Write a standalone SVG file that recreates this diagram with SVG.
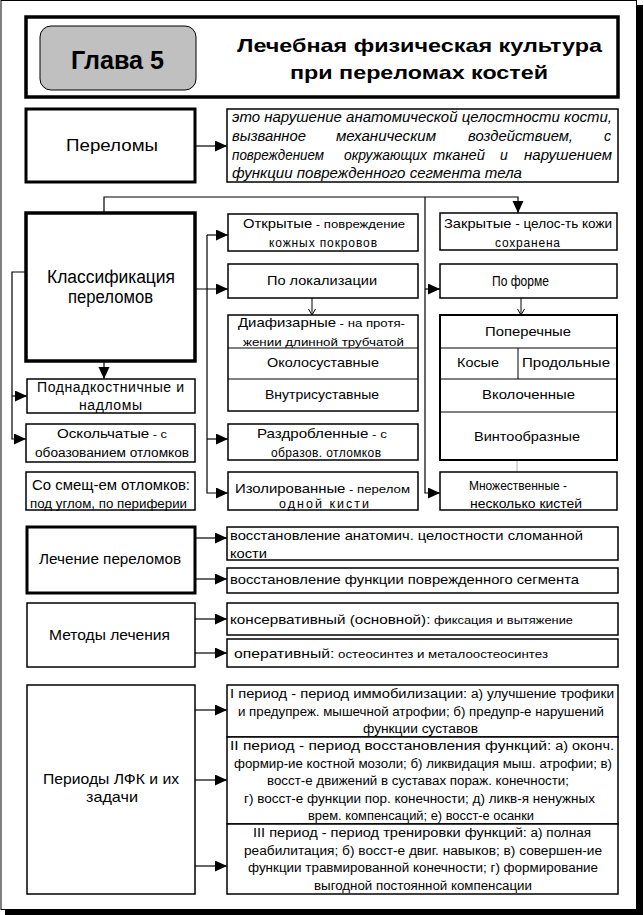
<svg xmlns="http://www.w3.org/2000/svg" width="644" height="915" viewBox="0 0 644 915">
<style>
text{font-family:"Liberation Sans",Arial,sans-serif;fill:#000}
.b{font-weight:bold}
.i{font-style:italic}
.k3{fill:#fff;stroke:#000;stroke-width:3}
.k2{fill:#fff;stroke:#000;stroke-width:1.5}
.ln{fill:none;stroke:#000;stroke-width:1}
.c{fill:none;stroke:#000;stroke-width:1.2}
.a{marker-end:url(#ah)}
.v{marker-end:url(#va)}
</style>
<defs>
<marker id="ah" markerUnits="userSpaceOnUse" markerWidth="13" markerHeight="12" refX="12" refY="5.5" orient="auto" viewBox="0 0 13 12"><path d="M0,0 L12,5.5 L0,11 z" fill="#000"/></marker>
<marker id="va" markerUnits="userSpaceOnUse" markerWidth="8" markerHeight="8" refX="6" refY="4" orient="auto" viewBox="0 0 8 8"><path d="M0,0.5 L6,4 L0,7.5" fill="none" stroke="#000" stroke-width="1"/></marker>
</defs>
<rect x="0" y="0" width="644" height="915" fill="#fff"/>
<g id="frame">
<rect x="1" y="0.5" width="635.5" height="909" fill="none" stroke="#000" stroke-width="1"/>
<rect x="636.5" y="5" width="6.5" height="910" fill="#000"/>
<rect x="5" y="909.5" width="638" height="5.5" fill="#000"/>
</g>
<g id="header">
<rect x="26" y="17" width="592" height="80" fill="#fff" stroke="#000" stroke-width="3.5"/>
<rect x="40" y="26" width="156" height="64" rx="11" fill="#c0c0c0" stroke="#000" stroke-width="1"/>
<text class="b" x="71" y="69" font-size="26" textLength="93" lengthAdjust="spacingAndGlyphs">Глава 5</text>
<text class="b" x="237" y="52" font-size="19" textLength="365" lengthAdjust="spacingAndGlyphs">Лечебная физическая культура</text>
<text class="b" x="290" y="79" font-size="19" textLength="258" lengthAdjust="spacingAndGlyphs">при переломах костей</text>
</g>
<g id="connectors">
<path class="c a" d="M195,146 H227"/>
<path class="c a" d="M104,213 V197 H518 V213"/>
<path class="c a" d="M425,197 V493 H440"/>
<path class="c a" d="M425,289 H440"/>
<path class="c a" d="M195,289 H228"/>
<path class="c a" d="M207,235 V493 H228"/>
<path class="c a" d="M207,235 H228"/>
<path class="c a" d="M207,439 H228"/>
<path class="c a" d="M26,272 H12 V439 H26"/>
<path class="c a" d="M12,396 H27"/>
<path class="c a" d="M104,362 V379"/>
<path class="ln v" d="M312,298 V315"/>
<path class="ln v" d="M521,298 V315"/>
<path d="M517,460 V472" fill="none" stroke="#b4b4b4" stroke-width="1"/>
<path class="c a" d="M195,538 H227"/>
<path class="c a" d="M195,579 H227"/>
<path class="c a" d="M195,619 H227"/>
<path class="c a" d="M195,653 H227"/>
<path class="c a" d="M195,710 H227"/>
<path class="c a" d="M195,780 H227"/>
<path class="c a" d="M195,866 H227"/>
</g>
<g id="perelomy">
<rect class="k3" x="26" y="109" width="169" height="73"/>
<text x="66" y="151" font-size="17" textLength="92" lengthAdjust="spacingAndGlyphs">Переломы</text>
</g>
<g id="definition">
<rect class="k2" x="227" y="109" width="391" height="73"/>
<text class="i" x="232" y="122" font-size="14" textLength="380" lengthAdjust="spacingAndGlyphs">это нарушение анатомической целостности кости,</text>
<text class="i" x="232" y="141" font-size="14" textLength="74" lengthAdjust="spacingAndGlyphs">вызванное</text>
<text class="i" x="336" y="141" font-size="14" textLength="100" lengthAdjust="spacingAndGlyphs">механическим</text>
<text class="i" x="468" y="141" font-size="14" textLength="105" lengthAdjust="spacingAndGlyphs">воздействием,</text>
<text class="i" x="604" y="141" font-size="14">с</text>
<text class="i" x="232" y="159.5" font-size="14" textLength="92" lengthAdjust="spacingAndGlyphs">повреждением</text>
<text class="i" x="344" y="159.5" font-size="14" textLength="83" lengthAdjust="spacingAndGlyphs">окружающих</text>
<text class="i" x="433" y="159.5" font-size="14" textLength="52" lengthAdjust="spacingAndGlyphs">тканей</text>
<text class="i" x="500" y="159.5" font-size="14">и</text>
<text class="i" x="524" y="159.5" font-size="14" textLength="88" lengthAdjust="spacingAndGlyphs">нарушением</text>
<text class="i" x="232" y="178" font-size="14" textLength="290" lengthAdjust="spacingAndGlyphs">функции  поврежденного сегмента тела</text>
</g>
<g id="klassifikaciya">
<rect x="26" y="213" width="169" height="148" fill="#fff" stroke="#000" stroke-width="3.5"/>
<text x="47" y="283" font-size="18" textLength="128" lengthAdjust="spacingAndGlyphs">Классификация</text>
<text x="68" y="303" font-size="18" textLength="85" lengthAdjust="spacingAndGlyphs">переломов</text>
</g>
<g id="podnadkostnichnye">
<rect class="k2" x="27" y="379" width="168" height="34"/>
<text x="37" y="391.5" font-size="14" textLength="147" lengthAdjust="spacing">Поднадкостничные  и</text>
<text x="79" y="409.5" font-size="14" textLength="63" lengthAdjust="spacing">надломы</text>
</g>
<g id="oskolchatye">
<rect class="k2" x="26" y="424" width="169" height="38"/>
<text x="57" y="437.5" font-size="13" textLength="110" lengthAdjust="spacingAndGlyphs">Оскольчатые<tspan font-size="11"> - с</tspan></text>
<text x="35" y="457" font-size="12.5" textLength="154" lengthAdjust="spacingAndGlyphs">обоазованием отломков</text>
</g>
<g id="so-smeshcheniem">
<rect class="k2" x="26" y="472" width="169" height="38"/>
<text x="32" y="490" font-size="14.5" textLength="158" lengthAdjust="spacingAndGlyphs">Со смещ-ем отломков:</text>
<text x="30" y="507.5" font-size="13" textLength="157" lengthAdjust="spacingAndGlyphs">под углом, по периферии</text>
</g>
<g id="otkrytye">
<rect class="k2" x="228" y="214" width="190" height="37"/>
<text x="243" y="228" font-size="13" textLength="162" lengthAdjust="spacingAndGlyphs">Открытые<tspan font-size="11.5"> - повреждение</tspan></text>
<text x="269" y="246.5" font-size="12" textLength="108" lengthAdjust="spacing">кожных покровов</text>
</g>
<g id="po-lokalizacii">
<rect class="k2" x="228" y="264" width="190" height="34"/>
<text x="267" y="285" font-size="13.5" textLength="110" lengthAdjust="spacingAndGlyphs">По локализации</text>
</g>
<g id="lokalizaciya-group">
<rect class="k2" x="228" y="315" width="190" height="96"/>
<path class="ln" d="M228,348 H418 M228,379 H418"/>
<text x="238" y="327" font-size="13" textLength="167" lengthAdjust="spacingAndGlyphs">Диафизарные<tspan font-size="11.5"> - на протя-</tspan></text>
<text x="243" y="345.5" font-size="11.5" textLength="161" lengthAdjust="spacingAndGlyphs">жении длинной трубчатой</text>
<text x="267" y="367" font-size="13.5" textLength="112" lengthAdjust="spacingAndGlyphs">Околосуставные</text>
<text x="265" y="399" font-size="13.5" textLength="114" lengthAdjust="spacingAndGlyphs">Внутрисуставные</text>
</g>
<g id="razdroblennye">
<rect class="k2" x="228" y="424" width="190" height="36"/>
<text x="257" y="438" font-size="13" textLength="130" lengthAdjust="spacingAndGlyphs">Раздробленные<tspan font-size="11.5"> - с</tspan></text>
<text x="271" y="456.5" font-size="12" textLength="110" lengthAdjust="spacing">образов. отломков</text>
</g>
<g id="izolirovannye">
<rect class="k2" x="228" y="472" width="190" height="38"/>
<text x="235" y="493" font-size="13" textLength="175" lengthAdjust="spacingAndGlyphs">Изолированные<tspan font-size="11.5"> - перелом</tspan></text>
<text x="279" y="508" font-size="12.5" textLength="90" lengthAdjust="spacing">одной кисти</text>
</g>
<g id="zakrytye">
<rect class="k2" x="440" y="213" width="177" height="37"/>
<text x="444" y="228" font-size="13" textLength="168" lengthAdjust="spacingAndGlyphs">Закрытые<tspan font-size="12"> - целос-ть кожи</tspan></text>
<text x="495" y="246.5" font-size="12" textLength="65" lengthAdjust="spacing">сохранена</text>
</g>
<g id="po-forme">
<rect class="k2" x="440" y="264" width="177" height="34"/>
<text x="492" y="285.5" font-size="14" textLength="57" lengthAdjust="spacingAndGlyphs">По форме</text>
</g>
<g id="forma-group">
<rect x="440" y="315" width="177" height="145" fill="#fff" stroke="#000" stroke-width="2"/>
<path class="ln" d="M440,348 H617 M440,379 H617 M440,412 H617 M518,348 V379"/>
<text x="485" y="336" font-size="13.5" textLength="86" lengthAdjust="spacingAndGlyphs">Поперечные</text>
<text x="457" y="367" font-size="13.5" textLength="42" lengthAdjust="spacingAndGlyphs">Косые</text>
<text x="522" y="367" font-size="13.5" textLength="88" lengthAdjust="spacingAndGlyphs">Продольные</text>
<text x="482" y="399" font-size="13.5" textLength="93" lengthAdjust="spacingAndGlyphs">Вколоченные</text>
<text x="474" y="441" font-size="13.5" textLength="106" lengthAdjust="spacingAndGlyphs">Винтообразные</text>
</g>
<g id="mnozhestvennye">
<rect class="k2" x="440" y="472" width="177" height="38"/>
<text x="469" y="490" font-size="13.5" textLength="98" lengthAdjust="spacingAndGlyphs">Множественные -</text>
<text x="470" y="508" font-size="12.5" textLength="112" lengthAdjust="spacingAndGlyphs">несколько кистей</text>
</g>
<g id="lechenie">
<rect class="k3" x="27" y="527" width="168" height="66"/>
<text x="39" y="564" font-size="15" textLength="142" lengthAdjust="spacingAndGlyphs">Лечение переломов</text>
</g>
<g id="lechenie-1">
<rect class="k2" x="227" y="527" width="391" height="33"/>
<text x="230" y="539.5" font-size="13" textLength="353" lengthAdjust="spacingAndGlyphs">восстановление анатомич. целостности сломанной</text>
<text x="230" y="557.5" font-size="13" textLength="37" lengthAdjust="spacingAndGlyphs">кости</text>
</g>
<g id="lechenie-2">
<rect class="k2" x="227" y="568" width="391" height="25"/>
<text x="230" y="583.5" font-size="13" textLength="349" lengthAdjust="spacingAndGlyphs">восстановление функции поврежденного сегмента</text>
</g>
<g id="metody">
<rect class="k2" x="27" y="603" width="168" height="64"/>
<text x="49" y="640" font-size="15" textLength="121" lengthAdjust="spacingAndGlyphs">Методы лечения</text>
</g>
<g id="metody-1">
<rect class="k2" x="227" y="603" width="391" height="32"/>
<text x="230" y="623.5" font-size="13" textLength="343" lengthAdjust="spacingAndGlyphs">консервативный (основной):<tspan font-size="11"> фиксация и вытяжение</tspan></text>
</g>
<g id="metody-2">
<rect class="k2" x="227" y="639" width="391" height="28"/>
<text x="234" y="657.5" font-size="13" textLength="314" lengthAdjust="spacingAndGlyphs">оперативный:<tspan font-size="11"> остеосинтез и металоостеосинтез</tspan></text>
</g>
<g id="periody">
<rect class="k2" x="27" y="685" width="168" height="209"/>
<text x="43" y="784" font-size="15" textLength="136" lengthAdjust="spacingAndGlyphs">Периоды ЛФК и их</text>
<text x="86" y="802" font-size="15" textLength="52" lengthAdjust="spacingAndGlyphs">задачи</text>
</g>
<g id="period-1">
<rect class="k2" x="227" y="685" width="391" height="52"/>
<text x="230" y="698" font-size="13.5" textLength="384" lengthAdjust="spacingAndGlyphs">I период - период иммобилизации:<tspan font-size="12.5"> а) улучшение трофики</tspan></text>
<text x="238" y="715.5" font-size="12.5" textLength="366" lengthAdjust="spacingAndGlyphs">и предупреж. мышечной атрофии; б) предупр-е нарушений</text>
<text x="363" y="733" font-size="12.5" textLength="115" lengthAdjust="spacingAndGlyphs">функции суставов</text>
</g>
<g id="period-2">
<rect class="k2" x="227" y="737" width="391" height="87"/>
<text x="230" y="750" font-size="13.5" textLength="384" lengthAdjust="spacingAndGlyphs">II период - период восстановления функций:<tspan font-size="12.5"> а) оконч.</tspan></text>
<text x="234" y="767.5" font-size="12.5" textLength="378" lengthAdjust="spacingAndGlyphs">формир-ие костной мозоли; б) ликвидация мыш. атрофии; в)</text>
<text x="267" y="785" font-size="12.5" textLength="302" lengthAdjust="spacingAndGlyphs">восст-е движений в суставах пораж. конечности;</text>
<text x="244" y="802.5" font-size="12.5" textLength="351" lengthAdjust="spacingAndGlyphs">г) восст-е функции пор. конечности; д) ликв-я ненужных</text>
<text x="308" y="820" font-size="12.5" textLength="226" lengthAdjust="spacingAndGlyphs">врем. компенсаций; е) восст-е осанки</text>
</g>
<g id="period-3">
<rect class="k2" x="227" y="824" width="391" height="70"/>
<text x="253" y="837" font-size="13.5" textLength="338" lengthAdjust="spacingAndGlyphs">III период - период тренировки функций:<tspan font-size="12.5"> а) полная</tspan></text>
<text x="244" y="854.5" font-size="12.5" textLength="358" lengthAdjust="spacingAndGlyphs">реабилитация; б) восст-е двиг. навыков; в)  совершен-ие</text>
<text x="248" y="872" font-size="12.5" textLength="350" lengthAdjust="spacingAndGlyphs">функции травмированной конечности; г) формирование</text>
<text x="314" y="889.5" font-size="12.5" textLength="218" lengthAdjust="spacingAndGlyphs">выгодной постоянной компенсации</text>
</g>
</svg>
